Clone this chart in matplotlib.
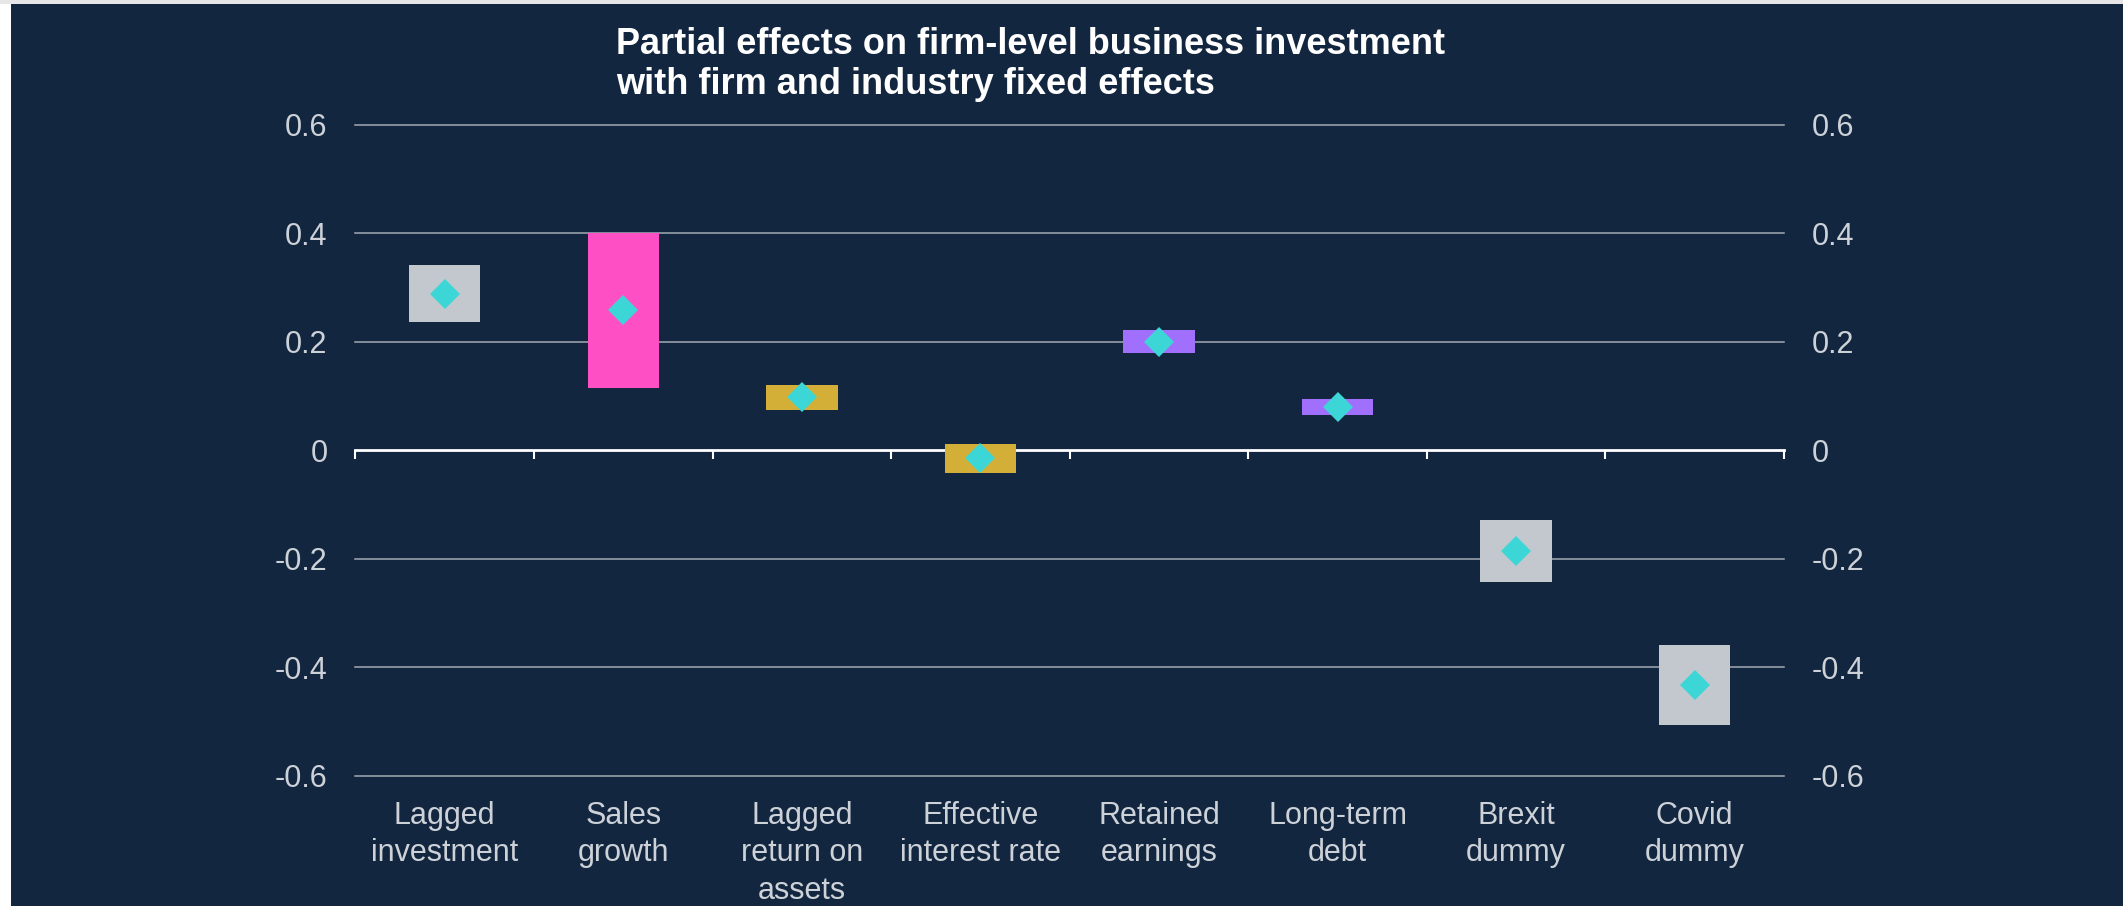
import numpy as np
import matplotlib.pyplot as plt
from matplotlib.patches import Rectangle
from matplotlib.markers import TICKDOWN

# data
categories = ["Lagged\ninvestment", "Sales\ngrowth", "Lagged\nreturn on\nassets",
              "Effective\ninterest rate", "Retained\nearnings", "Long-term\ndebt",
              "Brexit\ndummy", "Covid\ndummy"]
upper = [0.341, 0.401, 0.120, 0.011, 0.221, 0.094, -0.128, -0.358]
lower = [0.236, 0.115, 0.074, -0.042, 0.179, 0.065, -0.243, -0.506]
estimate = [0.288, 0.258, 0.098, -0.015, 0.200, 0.080, -0.185, -0.432]
yticks = [-0.6, -0.4, -0.2, 0, 0.2, 0.4, 0.6]
ytick_labels = ["-0.6", "-0.4", "-0.2", "0", "0.2", "0.4", "0.6"]

bg = "#13263f"
grey_box = "#c3c8cf"
pink = "#ff4fc4"
gold = "#d4af37"
purple = "#a070fd"
teal = "#3dd6d6"
bar_colors = [grey_box, pink, gold, gold, purple, purple, grey_box, grey_box]
text_col = "#cdd2d9"
grid_col = "#a3aab3"

plt.rcParams['font.family'] = ['Liberation Sans', 'DejaVu Sans']

fig = plt.figure(figsize=(21.23, 9.06), dpi=100, facecolor=bg)
# thin white margins on the left and top edge, like the source
fig.patches.append(Rectangle((0, 0), 11 / 2123, 1, transform=fig.transFigure,
                             facecolor="white", edgecolor="none"))
fig.patches.append(Rectangle((0, 1 - 4 / 906), 1, 4 / 906, transform=fig.transFigure,
                             facecolor="#e6e6e6", edgecolor="none"))

ax = fig.add_axes([0.1674, 0.1435, 0.8403 - 0.1674, 0.8625 - 0.1435])
ax.set_facecolor("none")
ax.set_zorder(2)
for s in ax.spines.values():
    s.set_visible(False)

x = np.arange(len(categories))
ax.set_xlim(-0.5, len(categories) - 0.5)
ax.set_ylim(-0.6, 0.6)

# gridlines
for yv in yticks:
    if yv == 0:
        continue
    ax.axhline(yv, color=grid_col, lw=1.1, zorder=1, clip_on=False)

# zero line with tick marks at category boundaries
bounds = np.arange(len(categories) + 1) - 0.5
ax.axhline(0, color="white", lw=2.0, zorder=2, clip_on=False)
ax.plot(bounds, np.zeros_like(bounds), linestyle="none", marker=TICKDOWN,
        markersize=6.5, markeredgewidth=1.5, color="white", zorder=2, clip_on=False)

# confidence boxes and point estimates
heights = np.array(upper) - np.array(lower)
ax.bar(x, heights, bottom=lower, width=0.4, color=bar_colors, zorder=3)
ax.plot(x, estimate, linestyle="none", marker="D", markersize=15.5,
        color=teal, markeredgewidth=0, zorder=4)

ax.set_yticks(yticks)
ax.set_yticklabels(ytick_labels)
ax.tick_params(axis="y", length=0, pad=20, labelsize=22, labelcolor=text_col,
               labelleft=True, labelright=True)
ax.set_xticks(x)
ax.set_xticklabels(categories, linespacing=1.32)
ax.tick_params(axis="x", length=0, pad=18, labelsize=22, labelcolor=text_col)

fig.text(616 / 2123, 1 - 27 / 906,
         "Partial effects on firm-level business investment\nwith firm and industry fixed effects",
         color="white", fontsize=26, fontweight="bold", ha="left", va="top",
         linespacing=1.2)

fig.savefig("out.png", dpi=100, facecolor=fig.get_facecolor())
